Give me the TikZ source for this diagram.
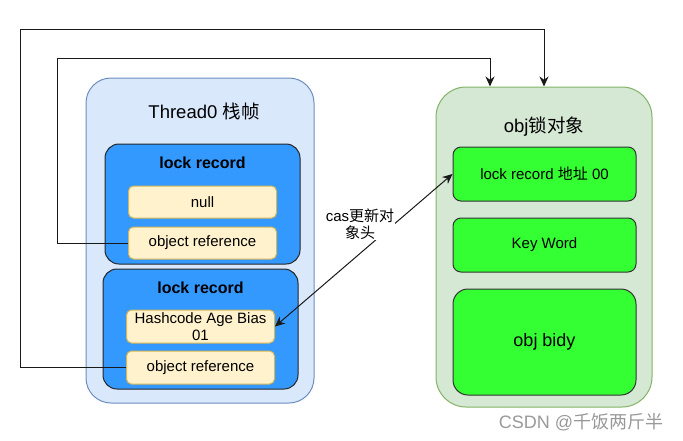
\documentclass[tikz,border=0pt]{standalone}
\usepackage{fontspec}
\setmainfont{Liberation Sans}
\newfontfamily\cjk{Noto Sans CJK SC}
\usetikzlibrary{positioning,arrows.meta}

\definecolor{stackfill}{HTML}{DAE8FC}
\definecolor{stackline}{HTML}{6C8EBF}
\definecolor{heapfill}{HTML}{D5E8D4}
\definecolor{heapline}{HTML}{82B366}
\definecolor{recblue}{HTML}{3399FF}
\definecolor{slotfill}{HTML}{FFF2CC}
\definecolor{slotline}{HTML}{D6B656}
\definecolor{partgreen}{HTML}{33FF33}

\begin{document}
\begin{tikzpicture}[x=1pt, y=-1pt, >={Stealth[length=10pt,width=9pt]},
                    every node/.style={font=\fontsize{15}{17}\selectfont}]
    \tikzstyle{stack}=[rectangle, draw=stackline, fill=stackfill, line width=1pt, rounded corners=25pt, minimum width=228pt, minimum height=325pt]
    \tikzstyle{heap}=[rectangle, draw=heapline, fill=heapfill, line width=1pt, rounded corners=30pt, minimum width=216pt, minimum height=320pt]
    \tikzstyle{record}=[rectangle, draw=black!85, fill=recblue, line width=1pt, rounded corners=14pt, minimum width=195pt, minimum height=120pt]
    \tikzstyle{slot}=[rectangle, draw=slotline, fill=slotfill, line width=1pt, rounded corners=5pt, minimum width=148pt, minimum height=32pt, inner sep=0pt, align=center]
    \tikzstyle{objpart}=[rectangle, draw=black!80, fill=partgreen, line width=1pt, rounded corners=8pt, minimum width=183pt, minimum height=54pt]
    \tikzstyle{headline}=[inner sep=0pt, font=\fontsize{18.5}{22}\selectfont]
    \tikzstyle{rechead}=[inner sep=0pt, font=\bfseries\fontsize{16}{18}\selectfont]
    \tikzstyle{connect}=[->, line width=1pt, black!90]

    \useasboundingbox (0,0) rectangle (683,440);

      \node[stack] (thread) at (200,240.5) {};
      \node[headline, below=34pt of thread.north, anchor=center, xshift=4pt] (threadname) {Thread0 {\cjk 栈帧}};
      \node[record, below=66pt of thread.north, xshift=2.5pt] (rec1) {};
      \node[rechead, below=19pt of rec1.north, anchor=center] (rec1name) {lock record};
      \node[slot] (nullbox) [below=42pt of rec1.north] {null};
      \node[slot] (ref1) [below=8pt of nullbox] {object reference};
      \node[record] (rec2) [below=4pt of rec1, xshift=-2pt] {};
      \node[rechead, below=19pt of rec2.north, anchor=center] (rec2name) {lock record};
      \node[slot, minimum height=33pt, font=\fontsize{15}{16.5}\selectfont] (hash) [below=41pt of rec2.north] {Hashcode Age Bias\\01};
      \node[slot, minimum height=33pt] (ref2) [below=7pt of hash] {object reference};

      \node[heap] (obj) at (544,247) {};
      \node[headline, below=40pt of obj.north, anchor=center] (objname) {obj{\cjk 锁对象}};
      \node[objpart] (addr) [below=60pt of obj.north, xshift=0.5pt] {lock record {\cjk 地址} 00};
      \node[objpart] (keyword) [below=16pt of addr] {Key Word};
      \node[objpart, minimum height=106pt, rounded corners=15pt, font=\fontsize{18}{20}\selectfont] (body) [below=16pt of keyword] {obj bidy};

      \coordinate (outerturn) at (20,29);
      \coordinate (innerturn) at (57,58);
      \coordinate (innerdrop) at ([xshift=-54pt]obj.north);

      \draw[connect] (ref2.west) -| (outerturn) -| (obj.north);
      \draw[connect] (ref1.west) -| (innerturn) -| (innerdrop);
      \draw[connect, <->] (hash.east) -- (addr.west);

      \node[align=center, fill=white, inner sep=0.5pt] (caslabel) at (360,224) {cas{\cjk 更新对}\\{\cjk 象头}};
      \node[text=black!40, font=\fontsize{18}{20}\selectfont] (mark) at (581,422) {CSDN @{\cjk 千饭两斤半}};
\end{tikzpicture}
\end{document}
